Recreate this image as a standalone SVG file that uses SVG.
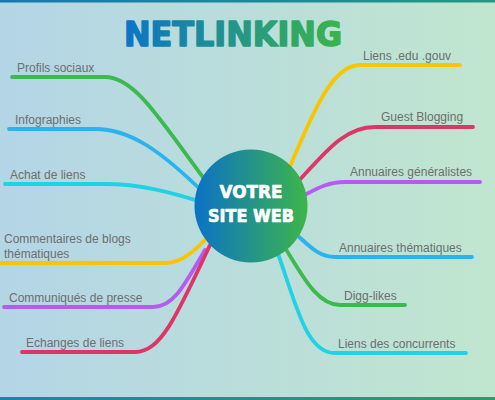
<svg xmlns="http://www.w3.org/2000/svg" width="495" height="400" viewBox="0 0 495 400">
<defs>
<linearGradient id="bg" x1="0" y1="0" x2="1" y2="0"><stop offset="0" stop-color="#b4d5e6"/><stop offset="1" stop-color="#c0e6cf"/></linearGradient>
<linearGradient id="top" x1="0" y1="0" x2="1" y2="0"><stop offset="0" stop-color="#1579b0"/><stop offset="1" stop-color="#1f9a86"/></linearGradient>
<linearGradient id="bot" x1="0" y1="0" x2="1" y2="0"><stop offset="0" stop-color="#1a86a8"/><stop offset="1" stop-color="#2a9d6a"/></linearGradient>
<linearGradient id="ttl" x1="123" y1="0" x2="343" y2="0" gradientUnits="userSpaceOnUse"><stop offset="0" stop-color="#0b74c8"/><stop offset="1" stop-color="#3bb54b"/></linearGradient>
<linearGradient id="ctr" x1="0" y1="0" x2="1" y2="0"><stop offset="0" stop-color="#0b72c6"/><stop offset="1" stop-color="#3db54a"/></linearGradient>
</defs>
<style>
.c{fill:none;stroke-width:3.8;stroke-linecap:round;stroke-linejoin:round}
.l{font-family:"Liberation Sans",Arial,sans-serif;font-size:12px;fill:#6e6e6e}
.g{stroke:#3cba50}.b{stroke:#2ab3f0}.cy{stroke:#20d2e4}.y{stroke:#f9c500}.p{stroke:#b65af2}.r{stroke:#df3468}
.w{font-family:"DejaVu Sans",sans-serif;font-weight:bold;font-size:18px;fill:#fff;stroke:#fff;stroke-width:0.7;stroke-linejoin:round}
</style>
<rect width="495" height="400" fill="url(#bg)"/>
<rect width="495" height="2.5" fill="url(#top)"/>
<rect y="397" width="495" height="3" fill="url(#bot)"/>
<text x="233" y="46" text-anchor="middle" textLength="218" lengthAdjust="spacingAndGlyphs" font-family="DejaVu Sans,sans-serif" font-weight="bold" font-size="34" fill="url(#ttl)" stroke="url(#ttl)" stroke-width="1.6" stroke-linejoin="round">NETLINKING</text>
<g id="connectors">
<path class="c g" d="M12,77 H105 C135,77 160,120 205,180"/>
<path class="c b" d="M9,129 H95 C130,129 160,150 205,194"/>
<path class="c cy" d="M5,184 H105 C140,184 170,192 205,203"/>
<path class="c y" d="M0,263 H165 C180,263 192,254 210,235"/>
<path class="c p" d="M4,307 H153 C172,307 182,290 205,250"/>
<path class="c r" d="M22,352 H135 C160,352 175,320 210,245"/>
<path class="c y" d="M285,178 C310,120 330,65 360,65 H460"/>
<path class="c r" d="M290,190 C320,160 340,127 375,127 H473"/>
<path class="c p" d="M295,200 C315,190 325,182 345,182 H480"/>
<path class="c b" d="M285,225 C305,240 315,257 335,257 H472"/>
<path class="c g" d="M280,240 C300,270 315,305 340,305 H405"/>
<path class="c cy" d="M275,245 C295,300 305,353 335,353 H466"/>
</g>
<g id="center">
<circle cx="251" cy="206" r="56.5" fill="url(#ctr)"/>
<text class="w" x="251" y="198" text-anchor="middle" textLength="63" lengthAdjust="spacingAndGlyphs">VOTRE</text>
<text class="w" x="251" y="222" text-anchor="middle" textLength="86" lengthAdjust="spacingAndGlyphs">SITE WEB</text>
</g>
<g id="n1"><text class="l" x="17" y="72">Profils sociaux</text></g>
<g id="n2"><text class="l" x="15" y="124">Infographies</text></g>
<g id="n3"><text class="l" x="10" y="179">Achat de liens</text></g>
<g id="n4"><text class="l" x="4" y="243">Commentaires de blogs</text><text class="l" x="4" y="258">thématiques</text></g>
<g id="n5"><text class="l" x="9" y="302">Communiqués de presse</text></g>
<g id="n6"><text class="l" x="26" y="347">Echanges de liens</text></g>
<g id="n7"><text class="l" x="363" y="60">Liens .edu .gouv</text></g>
<g id="n8"><text class="l" x="381" y="121">Guest Blogging</text></g>
<g id="n9"><text class="l" x="350" y="176">Annuaires généralistes</text></g>
<g id="n10"><text class="l" x="339" y="252">Annuaires thématiques</text></g>
<g id="n11"><text class="l" x="344" y="300">Digg-likes</text></g>
<g id="n12"><text class="l" x="338" y="348">Liens des concurrents</text></g>
</svg>
